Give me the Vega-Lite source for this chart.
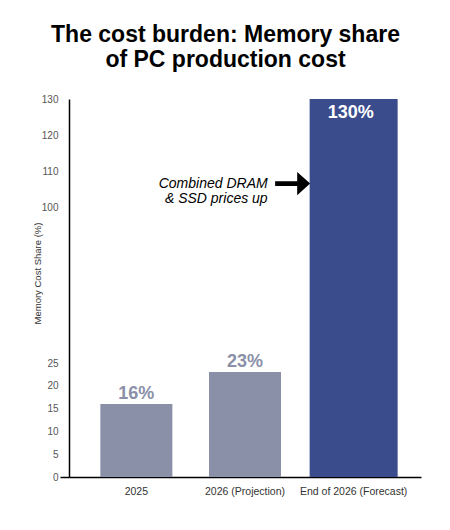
{
  "$schema": "https://vega.github.io/schema/vega-lite/v6.json",
  "width": 352,
  "height": 378,
  "autosize": {"type": "none"},
  "padding": {"left": 69, "top": 99, "right": 29, "bottom": 53},
  "background": "white",
  "title": {
    "text": ["The cost burden: Memory share", "of PC production cost"],
    "font": "Liberation Sans",
    "fontSize": 23,
    "fontWeight": "bold",
    "lineHeight": 25,
    "color": "#000000",
    "anchor": "middle",
    "frame": "group",
    "baseline": "bottom",
    "offset": -1,
    "dx": -19.5
  },
  "config": {
    "font": "Liberation Sans",
    "view": {"stroke": null}
  },
  "data": {
    "values": [
      {"period": "2025", "share": 16, "label": "16%"},
      {"period": "2026 (Projection)", "share": 23, "label": "23%"},
      {"period": "End of 2026 (Forecast)", "share": 130, "label": "130%"}
    ]
  },
  "encoding": {
    "x": {
      "field": "period",
      "type": "nominal",
      "sort": null,
      "scale": {"paddingOuter": 0.12, "paddingInner": 0},
      "axis": {
        "title": null,
        "labelAngle": 0,
        "labelFont": "Liberation Sans",
        "labelFontSize": 10.5,
        "labelColor": "#333333",
        "labelPadding": 9,
        "ticks": false,
        "domainColor": "#000000",
        "domainWidth": 1.5
      }
    },
    "y": {
      "field": "share",
      "type": "quantitative",
      "scale": {"domain": [0, 25, 100, 130], "range": [378, 264, 108, 0], "nice": false, "zero": false},
      "axis": {
        "title": "Memory Cost Share (%)",
        "titleFont": "Liberation Sans",
        "titleFontSize": 9.5,
        "titleFontWeight": "normal",
        "titleColor": "#333333",
        "titleX": -32,
        "titleY": 174,
        "titleBaseline": "middle",
        "values": [0, 5, 10, 15, 20, 25, 100, 110, 120, 130],
        "labelFont": "Liberation Sans",
        "labelFontSize": 10,
        "labelColor": "#555555",
        "labelPadding": 2,
        "tickSize": 9,
        "tickColor": {"condition": {"test": "datum.value === 0", "value": "#000000"}, "value": "transparent"},
        "tickWidth": 1.5,
        "grid": false,
        "domainColor": "#000000",
        "domainWidth": 1.5
      }
    }
  },
  "layer": [
    {
      "transform": [{"filter": "datum.share < 100"}],
      "mark": {"type": "bar", "width": 72, "color": "#8a90a8"}
    },
    {
      "transform": [{"filter": "datum.share >= 100"}],
      "mark": {"type": "bar", "width": 88, "color": "#3b4c8d"}
    },
    {
      "transform": [{"filter": "datum.share < 100"}],
      "mark": {"type": "text", "baseline": "alphabetic", "dy": -5, "fontSize": 18, "fontWeight": "bold", "color": "#8a90a8"},
      "encoding": {"text": {"field": "label"}}
    },
    {
      "transform": [{"filter": "datum.share >= 100"}],
      "mark": {"type": "text", "baseline": "top", "dy": 5, "dx": -3, "fontSize": 18, "fontWeight": "bold", "color": "#ffffff"},
      "encoding": {"text": {"field": "label"}}
    },
    {
      "data": {"values": [{"period": "End of 2026 (Forecast)", "share": 106.5, "note": ["Combined DRAM", "& SSD prices up"]}]},
      "mark": {"type": "text", "align": "right", "baseline": "middle", "dx": -86, "fontSize": 14, "fontStyle": "italic", "lineHeight": 15, "color": "#000000"},
      "encoding": {"text": {"field": "note"}}
    },
    {
      "data": {"values": [{"period": "End of 2026 (Forecast)", "share": 106.5}]},
      "mark": {
        "type": "point",
        "shape": "M-1,-0.14L0.26,-0.14L0.26,-0.66L1,0L0.26,0.66L0.26,0.14L-1,0.14Z",
        "size": 1225,
        "filled": true,
        "opacity": 1,
        "color": "#000000",
        "xOffset": -61
      }
    }
  ]
}
